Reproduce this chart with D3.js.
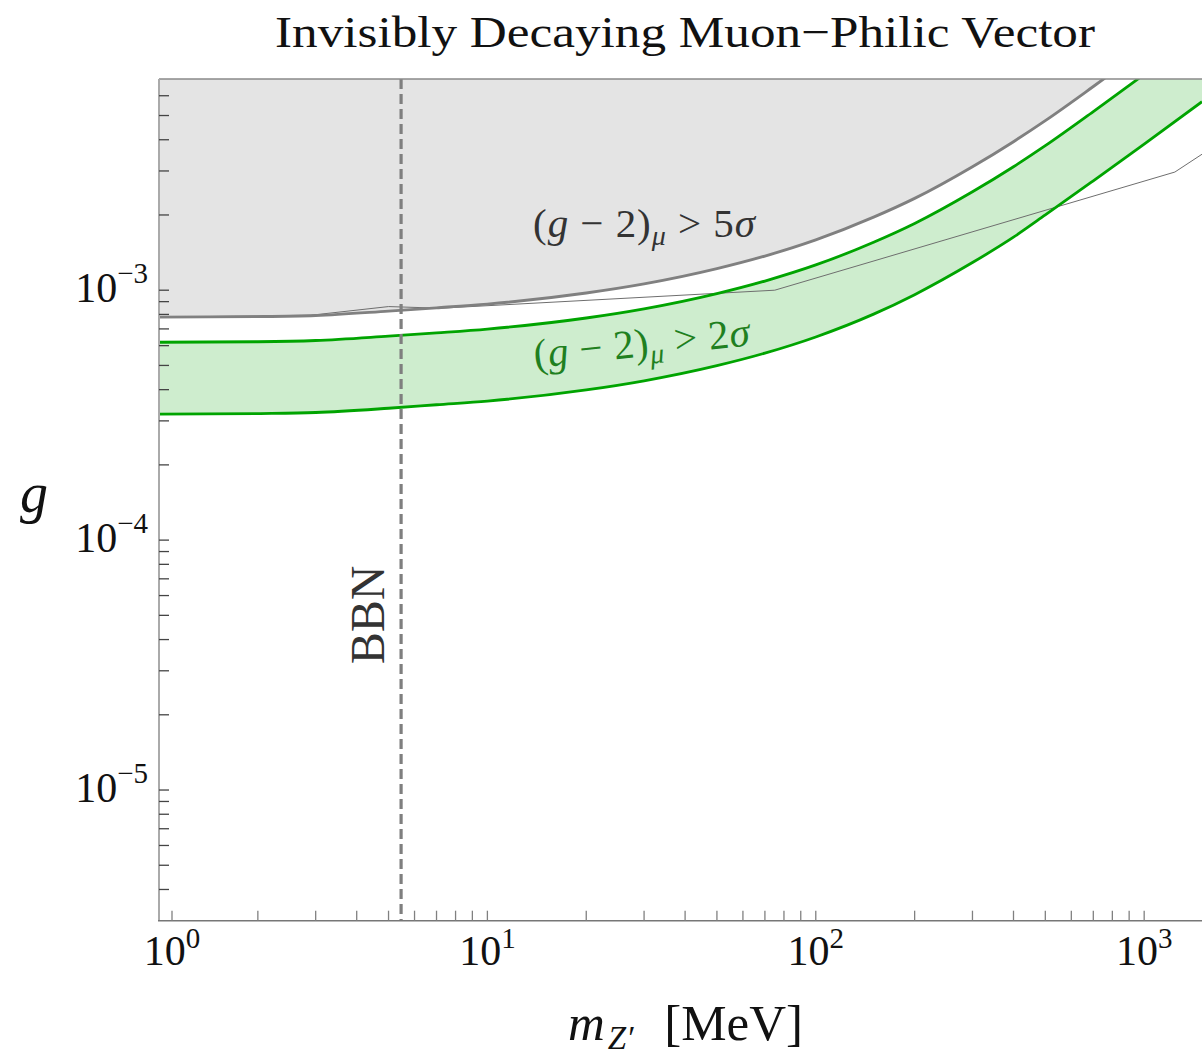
<!DOCTYPE html>
<html>
<head>
<meta charset="utf-8">
<script src="https://cdn.jsdelivr.net/npm/d3@7"></script>
<style>
  html, body { margin: 0; padding: 0; background: #fff; }
  svg { display: block; }
  text { font-family: "Liberation Serif", "DejaVu Serif", serif; }
</style>
</head>
<body>
<script>
// ---------------- data ----------------
const massMeV = [1, 2, 3, 5, 7, 10, 20, 30, 50, 70, 100, 150, 200, 300, 400, 500, 700, 1000, 1500];
const g5sigma = [7.80e-4, 7.84e-4, 7.92e-4, 8.25e-4, 8.50e-4, 8.80e-4, 9.75e-4, 1.06e-3, 1.22e-3, 1.37e-3,
                 1.59e-3, 1.96e-3, 2.33e-3, 3.12e-3, 3.93e-3, 4.77e-3, 6.53e-3, 9.20e-3, 1.37e-2];
const g2sigmaUpper = [6.19e-4, 6.22e-4, 6.29e-4, 6.55e-4, 6.75e-4, 6.99e-4, 7.74e-4, 8.42e-4, 9.69e-4, 1.088e-3,
                      1.262e-3, 1.556e-3, 1.85e-3, 2.477e-3, 3.12e-3, 3.787e-3, 5.185e-3, 7.30e-3, 1.088e-2];
const g2sigmaLower = [3.19e-4, 3.21e-4, 3.24e-4, 3.37e-4, 3.48e-4, 3.60e-4, 3.99e-4, 4.34e-4, 4.99e-4, 5.60e-4,
                      6.50e-4, 8.02e-4, 9.60e-4, 1.29e-3, 1.63e-3, 2.00e-3, 2.74e-3, 3.84e-3, 5.68e-3];
// thin grey bound
const thinMass = [1, 2.9, 5.0, 7.2, 75, 1240, 1500];
const thinG    = [7.8e-4, 7.94e-4, 8.6e-4, 8.47e-4, 1.0e-3, 2.97e-3, 3.5e-3];
// BBN vertical line
const bbnMass = 5.46;
// axes
const xDomain = [1, 1500];
const yDomain = [3e-6, 7e-3];
const xMajor = [1, 10, 100, 1000];
const xMajorLabels = ["0", "1", "2", "3"];
const yMajor = [1e-5, 1e-4, 1e-3];
const yMajorLabels = ["\u22125", "\u22124", "\u22123"];
const titleText = "Invisibly Decaying Muon\u2212Philic Vector";

// ---------------- layout ----------------
const W = 1202, H = 1057;
const M = { left: 159, right: 1202, top: 79, bottom: 920.7 };

const svg = d3.select("body").append("svg").attr("width", W).attr("height", H);

const x = d3.scaleLog().domain(xDomain).range([M.left, M.right]);
const y = d3.scaleLog().domain(yDomain).range([M.bottom, M.top]);

svg.append("clipPath").attr("id", "plotclip")
  .append("rect").attr("x", M.left).attr("y", M.top)
  .attr("width", M.right - M.left).attr("height", M.bottom - M.top);

const plot = svg.append("g").attr("clip-path", "url(#plotclip)");

const curveData = (ys) => massMeV.map((m, i) => [m, ys[i]]);
const smooth = d3.curveMonotoneX;

// grey excluded region (above 5 sigma)
const areaTop = d3.area()
  .x(d => x(d[0])).y0(() => y(yDomain[1]) - 5).y1(d => y(d[1]))
  .curve(smooth);
plot.append("path").datum(curveData(g5sigma))
  .attr("d", areaTop).attr("fill", "#e4e4e4");

// green band
const band = massMeV.map((m, i) => [m, g2sigmaLower[i], g2sigmaUpper[i]]);
plot.append("path").datum(band)
  .attr("d", d3.area().x(d => x(d[0])).y0(d => y(d[1])).y1(d => y(d[2])).curve(smooth))
  .attr("fill", "#ceedce");

// thin grey line
plot.append("path").datum(thinMass.map((m, i) => [m, thinG[i]]))
  .attr("d", d3.line().x(d => x(d[0])).y(d => y(d[1])))
  .attr("fill", "none").attr("stroke", "#6e6e6e").attr("stroke-width", 1);

const line = d3.line().x(d => x(d[0])).y(d => y(d[1])).curve(smooth);
plot.append("path").datum(curveData(g2sigmaLower)).attr("d", line)
  .attr("fill", "none").attr("stroke", "#00a400").attr("stroke-width", 2.8);
plot.append("path").datum(curveData(g2sigmaUpper)).attr("d", line)
  .attr("fill", "none").attr("stroke", "#00a400").attr("stroke-width", 2.8);
plot.append("path").datum(curveData(g5sigma)).attr("d", line)
  .attr("fill", "none").attr("stroke", "#808080").attr("stroke-width", 2.9);

// BBN dashed line
plot.append("line")
  .attr("x1", x(bbnMass)).attr("x2", x(bbnMass))
  .attr("y1", M.top).attr("y2", M.bottom)
  .attr("stroke", "#7f7f7f").attr("stroke-width", 3.2)
  .attr("stroke-dasharray", "10,5");

// ---------------- frame ----------------
svg.append("line").attr("x1", M.left).attr("x2", M.right).attr("y1", M.top).attr("y2", M.top)
  .attr("stroke", "#8a8a8a").attr("stroke-width", 1.5);
svg.append("line").attr("x1", M.left).attr("x2", M.left).attr("y1", M.top).attr("y2", M.bottom)
  .attr("stroke", "#aaaaaa").attr("stroke-width", 2);
svg.append("line").attr("x1", M.left - 1).attr("x2", M.right).attr("y1", M.bottom).attr("y2", M.bottom)
  .attr("stroke", "#777777").attr("stroke-width", 1.5);

// ---------------- ticks ----------------
const firstTickNudge = 13; // the 10^0 tick sits slightly inside the frame corner in the reference
const xMinor = [];
for (let d = 1; d <= 1000; d *= 10) for (let k = 2; k <= 9; k++) if (d * k <= xDomain[1]) xMinor.push(d * k);
const xTickPos = v => x(v) + (v === xDomain[0] ? firstTickNudge : 0);

svg.append("g").selectAll("line").data(xMajor.concat(xMinor)).join("line")
  .attr("x1", xTickPos).attr("x2", xTickPos)
  .attr("y1", M.bottom).attr("y2", M.bottom - 10)
  .attr("stroke", "#808080").attr("stroke-width", 1.3);

const yMinor = [];
for (let d = 1e-6; d <= 1e-3; d *= 10) for (let k = 1; k <= 9; k++) {
  const v = d * k;
  if (v > yDomain[0] * 1.001 && v < yDomain[1] * 0.999) yMinor.push(v);
}
svg.append("g").selectAll("line").data(yMinor).join("line")
  .attr("x1", M.left).attr("x2", M.left + 10)
  .attr("y1", d => y(d)).attr("y2", d => y(d))
  .attr("stroke", "#444").attr("stroke-width", 1.3);

// x tick labels
const xl = svg.append("g").selectAll("text").data(xMajor).join("text")
  .attr("x", xTickPos).attr("y", 965)
  .attr("text-anchor", "middle").attr("font-size", 42).attr("fill", "#111");
xl.append("tspan").text("10");
xl.append("tspan").attr("dy", -17).attr("font-size", 29).text((d, i) => xMajorLabels[i]);

// y tick labels
const yl = svg.append("g").selectAll("text").data(yMajor).join("text")
  .attr("x", 148).attr("y", d => y(d) + 12)
  .attr("text-anchor", "end").attr("font-size", 42).attr("fill", "#111");
yl.append("tspan").text("10");
yl.append("tspan").attr("dy", -19).attr("font-size", 29).text((d, i) => yMajorLabels[i]);

// ---------------- labels ----------------
svg.append("text").attr("x", 685).attr("y", 47).attr("text-anchor", "middle")
  .attr("font-size", 45).attr("textLength", 820).attr("lengthAdjust", "spacingAndGlyphs")
  .attr("fill", "#111").text(titleText);

function sigmaLabel(parent, n, color, len) {
  const t = parent.append("text").attr("font-size", 41).attr("fill", color)
    .attr("textLength", len).attr("lengthAdjust", "spacing");
  t.append("tspan").text("(");
  t.append("tspan").attr("font-style", "italic").text("g");
  t.append("tspan").text(" \u2212 2)");
  t.append("tspan").attr("font-style", "italic").attr("font-size", 28).attr("dy", 8).text("\u03bc");
  t.append("tspan").attr("dy", -8).text(" > " + n);
  t.append("tspan").attr("font-style", "italic").text("\u03c3");
  return t;
}
sigmaLabel(svg.append("g").attr("transform", "translate(533,237)"), "5", "#333", 222);
sigmaLabel(svg.append("g").attr("transform", "translate(535,368) rotate(-6)"), "2", "#1f801f", 217);

svg.append("text").attr("transform", `translate(384,615) rotate(-90)`)
  .attr("text-anchor", "middle").attr("font-size", 48).attr("fill", "#333").text("BBN");

svg.append("text").attr("x", 20).attr("y", 512).attr("font-size", 56)
  .attr("font-style", "italic").attr("fill", "#111").text("g");

const xt = svg.append("text").attr("x", 568).attr("y", 1040).attr("font-size", 51).attr("fill", "#111");
xt.append("tspan").attr("font-style", "italic").text("m");
xt.append("tspan").attr("font-style", "italic").attr("font-size", 33).attr("dy", 9).attr("dx", 3).text("Z\u2032");
xt.append("tspan").attr("dy", -9).attr("dx", 18).text(" [MeV]");
</script>
</body>
</html>
